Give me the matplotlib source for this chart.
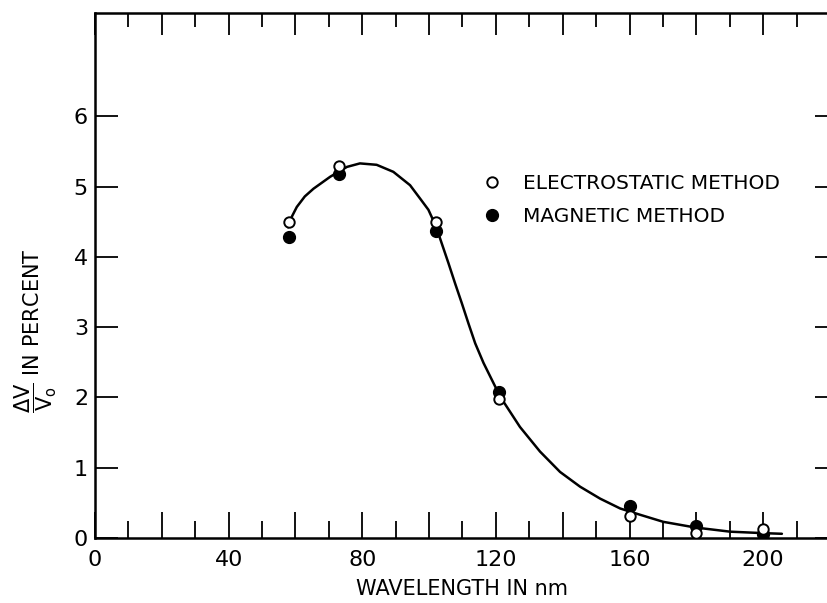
import matplotlib
matplotlib.use('Agg')
import matplotlib.pyplot as plt

# measured points (wavelength in nm, dV/V0 in percent)
wl_pts = [58, 73, 102, 121, 160, 180, 200]
electrostatic = [4.50, 5.30, 4.49, 1.98, 0.32, 0.07, 0.13]
magnetic = [4.28, 5.18, 4.37, 2.08, 0.46, 0.17, 0.06]

# hand drawn smooth curve
curve_wl = [57.8, 59.0, 60.4, 62.8, 65.4, 70.4, 75.4, 79.3, 84.3, 89.3, 94.3,
            97.3, 99.8, 102.1, 103.8, 105.8, 107.8, 109.8, 111.8, 113.8, 116.3,
            118.8, 121.3, 127.2, 133.2, 139.2, 145.2, 151.2, 157.2, 163.2, 170.1,
            179.6, 190.1, 199.6, 205.6]
curve_val = [4.42, 4.58, 4.71, 4.86, 4.97, 5.14, 5.28, 5.33, 5.31, 5.21, 5.02,
             4.83, 4.67, 4.43, 4.19, 3.91, 3.62, 3.34, 3.05, 2.77, 2.49,
             2.25, 2.01, 1.58, 1.23, 0.94, 0.73, 0.56, 0.42, 0.33, 0.23,
             0.15, 0.09, 0.07, 0.06]

x_ticks = list(range(0, 221, 20))
x_minor = list(range(10, 220, 20))
y_ticks = [0, 1, 2, 3, 4, 5, 6]

plt.rcParams['font.family'] = ['DejaVu Sans']
plt.rcParams['mathtext.default'] = 'regular'

fig = plt.figure(figsize=(8.28, 6.03), dpi=100)
ax = fig.add_axes([95/828, 1 - 538/603, 735/828, 525/603])

ax.plot(curve_wl, curve_val, color='black', lw=1.8, zorder=2,
        solid_joinstyle='round', solid_capstyle='round')
ax.plot(wl_pts, magnetic, 'o', color='black', ms=8.5, zorder=3,
        label='MAGNETIC METHOD')
ax.plot(wl_pts, electrostatic, 'o', mfc='white', mec='black', mew=1.4, ms=7.5,
        zorder=4, label='ELECTROSTATIC METHOD')

ax.set_xlim(0, 220)
ax.set_ylim(0, 7.47)

for s in ax.spines.values():
    s.set_linewidth(1.8)

ax.set_xticks(x_ticks)
ax.set_xticks(x_minor, minor=True)
ax.set_xticklabels([str(t) if t % 40 == 0 else '' for t in x_ticks])
ax.set_yticks(y_ticks)
ax.set_yticklabels([str(t) for t in y_ticks])

ax.tick_params(axis='x', which='major', direction='in', top=True, length=19,
               width=1.3, labelsize=16, pad=9)
ax.tick_params(axis='x', which='minor', direction='in', top=True, length=12,
               width=1.3)
ax.tick_params(axis='y', direction='in', right=True, length=16.5, width=1.3,
               labelsize=16, pad=5)

# top and right ticks are shorter than the bottom and left ones
for t in ax.xaxis.get_major_ticks():
    t.tick2line.set_markersize(16)
for t in ax.xaxis.get_minor_ticks():
    t.tick2line.set_markersize(10)
for t in ax.yaxis.get_major_ticks():
    t.tick2line.set_markersize(11)

ax.set_xlabel('WAVELENGTH IN nm', fontsize=15, labelpad=6)
fig.text(36/828, 1 - 331/603, r'$\dfrac{\Delta V}{V_o}$ IN PERCENT',
         rotation=90, ha='center', va='center', fontsize=15)

h, l = ax.get_legend_handles_labels()
ax.legend(h[::-1], l[::-1], loc='center left', frameon=False, fontsize=14.5,
          bbox_to_anchor=(466/828, 1 - 200/603), bbox_transform=fig.transFigure,
          handlelength=0.8, handletextpad=1.15, labelspacing=0.7)

fig.savefig('out.png', dpi=100)
